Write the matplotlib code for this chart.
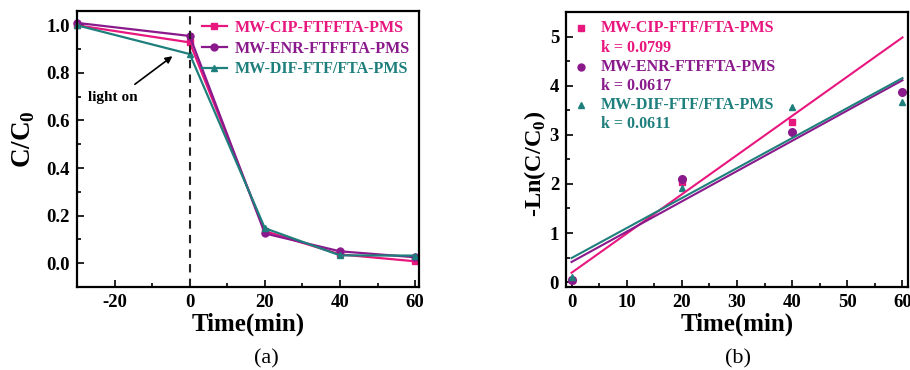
import matplotlib
matplotlib.use("Agg")
import matplotlib.pyplot as plt
import numpy as np
from matplotlib.ticker import MultipleLocator, FormatStrFormatter

plt.rcParams['font.family'] = ['Liberation Serif', 'DejaVu Serif']
plt.rcParams['font.weight'] = 'bold'
plt.rcParams['axes.unicode_minus'] = False
plt.rcParams['mathtext.fontset'] = 'custom'
plt.rcParams['mathtext.rm'] = 'Liberation Serif:bold'
plt.rcParams['mathtext.bf'] = 'Liberation Serif:bold'

# ---- data (a) ----
time_a = [-30, 0, 20, 40, 60]
cip_a = [1.00, 0.928, 0.135, 0.037, 0.008]
enr_a = [1.01, 0.955, 0.125, 0.050, 0.025]
dif_a = [1.00, 0.879, 0.147, 0.033, 0.032]

# ---- data (b) ----
time_b = [0, 20, 40, 60]
cip_b = [0.05, 2.03, 3.26]
enr_b = [0.04, 2.11, 3.06, 3.88]
dif_b = [0.10, 1.91, 3.56, 3.67]
k_vals = [0.0799, 0.0617, 0.0611]
intercepts = [0.19, 0.41, 0.49]

labels_a = ["MW-CIP-FTFFTA-PMS", "MW-ENR-FTFFTA-PMS", "MW-DIF-FTF/FTA-PMS"]
labels_b = ["MW-CIP-FTF/FTA-PMS", "MW-ENR-FTFFTA-PMS", "MW-DIF-FTF/FTA-PMS"]

c_pink = "#E8177E"
c_purp = "#8A1A8C"
c_teal = "#1E7F7C"
colors = [c_pink, c_purp, c_teal]
markers = ['s', 'o', '^']

fig = plt.figure(figsize=(9.1, 3.7), dpi=100)
ax1 = fig.add_axes([0.0846, 0.2243, 0.3758, 0.746])
ax2 = fig.add_axes([0.622, 0.2243, 0.3758, 0.743])

tick_fs = 13.5
xlab_fs = 18
leg_fs = 11.5

def style(ax):
    for s in ax.spines.values():
        s.set_linewidth(1.6)
    ax.tick_params(which='both', direction='in', top=False, right=False,
                   labelsize=tick_fs, width=1.2, pad=5)
    ax.tick_params(which='major', length=5)
    ax.tick_params(which='minor', length=3)
    for lab in ax.get_xticklabels() + ax.get_yticklabels():
        lab.set_fontweight('bold')

# ---- panel (a) ----
for y, c, m, l in zip([cip_a, enr_a, dif_a], colors, markers, labels_a):
    ax1.plot(time_a, y, color=c, marker=m, markersize=5, lw=1.6, label=l, clip_on=False)
ax1.axvline(0, color='#222222', ls=(0, (4, 3)), lw=1.5)
ax1.set_xlim(-30, 61)
ax1.set_ylim(-0.1, 1.06)
ax1.set_xticks([-20, 0, 20, 40, 60])
ax1.xaxis.set_minor_locator(MultipleLocator(10))
ax1.yaxis.set_major_locator(MultipleLocator(0.2))
ax1.yaxis.set_minor_locator(MultipleLocator(0.1))
ax1.yaxis.set_major_formatter(FormatStrFormatter('%.1f'))
style(ax1)
ax1.set_xlabel("Time(min)", fontsize=xlab_fs, fontweight='bold', labelpad=1)
ax1.set_ylabel(r"C/C$_\mathbf{0}$", fontsize=19.5, fontweight='bold')
ax1.yaxis.set_label_coords(-0.117, 0.536)
ax1.text(-27.2, 0.698, "light on", fontsize=11, fontweight='bold', va='center', ha='left')
ax1.annotate("", xy=(-4.6, 0.87), xytext=(-14.6, 0.752),
             arrowprops=dict(arrowstyle='-|>', color='black', lw=1.2,
                             shrinkA=0, shrinkB=0, mutation_scale=10))
leg = ax1.legend(loc='upper right', frameon=False, handlelength=1.6,
                 handletextpad=0.5, labelspacing=0.3, borderaxespad=0.15,
                 prop={'weight': 'bold', 'size': leg_fs})
for t, c in zip(leg.get_texts(), colors):
    t.set_color(c)

# ---- panel (b) ----
ax2.plot(time_b[:len(cip_b)], cip_b, ls='none', marker='s', color=c_pink, markersize=5, clip_on=False)
ax2.plot(time_b, enr_b, ls='none', marker='o', color=c_purp, markersize=5.5, clip_on=False)
ax2.plot(time_b, dif_b, ls='none', marker='^', color=c_teal, markersize=4.5, clip_on=False)
xfit = np.array([0, 60])
for k, b, c in zip(k_vals, intercepts, colors):
    ax2.plot(xfit, k * xfit + b, color=c, lw=1.5)
ax2.set_xlim(-1, 61)
ax2.set_ylim(-0.1, 5.5)
ax2.xaxis.set_major_locator(MultipleLocator(10))
ax2.xaxis.set_minor_locator(MultipleLocator(5))
ax2.yaxis.set_major_locator(MultipleLocator(1))
ax2.yaxis.set_minor_locator(MultipleLocator(0.5))
style(ax2)
ax2.set_xlabel("Time(min)", fontsize=xlab_fs, fontweight='bold', labelpad=1)
ax2.set_ylabel(r"-Ln(C/C$_\mathbf{0}$)", fontsize=17.5, fontweight='bold')
ax2.yaxis.set_label_coords(-0.052, 0.447)

rows = [0.941, 0.870, 0.801, 0.731, 0.661, 0.592]
for i, (l, k, c, m) in enumerate(zip(labels_b, k_vals, colors, markers)):
    y1 = rows[2 * i]
    y2 = rows[2 * i + 1]
    ax2.plot([0.044], [y1], transform=ax2.transAxes, marker=m, color=c,
             markersize=5 if m != '^' else 4.5, ls='none')
    ax2.text(0.101, y1, l, transform=ax2.transAxes, color=c, fontsize=leg_fs,
             fontweight='bold', va='center', ha='left')
    ax2.text(0.101, y2, f"k = {k:.4f}", transform=ax2.transAxes, color=c, fontsize=leg_fs,
             fontweight='bold', va='center', ha='left')

fig.text(0.293, 0.030, "(a)", fontsize=16, fontweight='normal', ha='center', va='center')
fig.text(0.811, 0.030, "(b)", fontsize=16, fontweight='normal', ha='center', va='center')

fig.savefig("out.png", dpi=100)
